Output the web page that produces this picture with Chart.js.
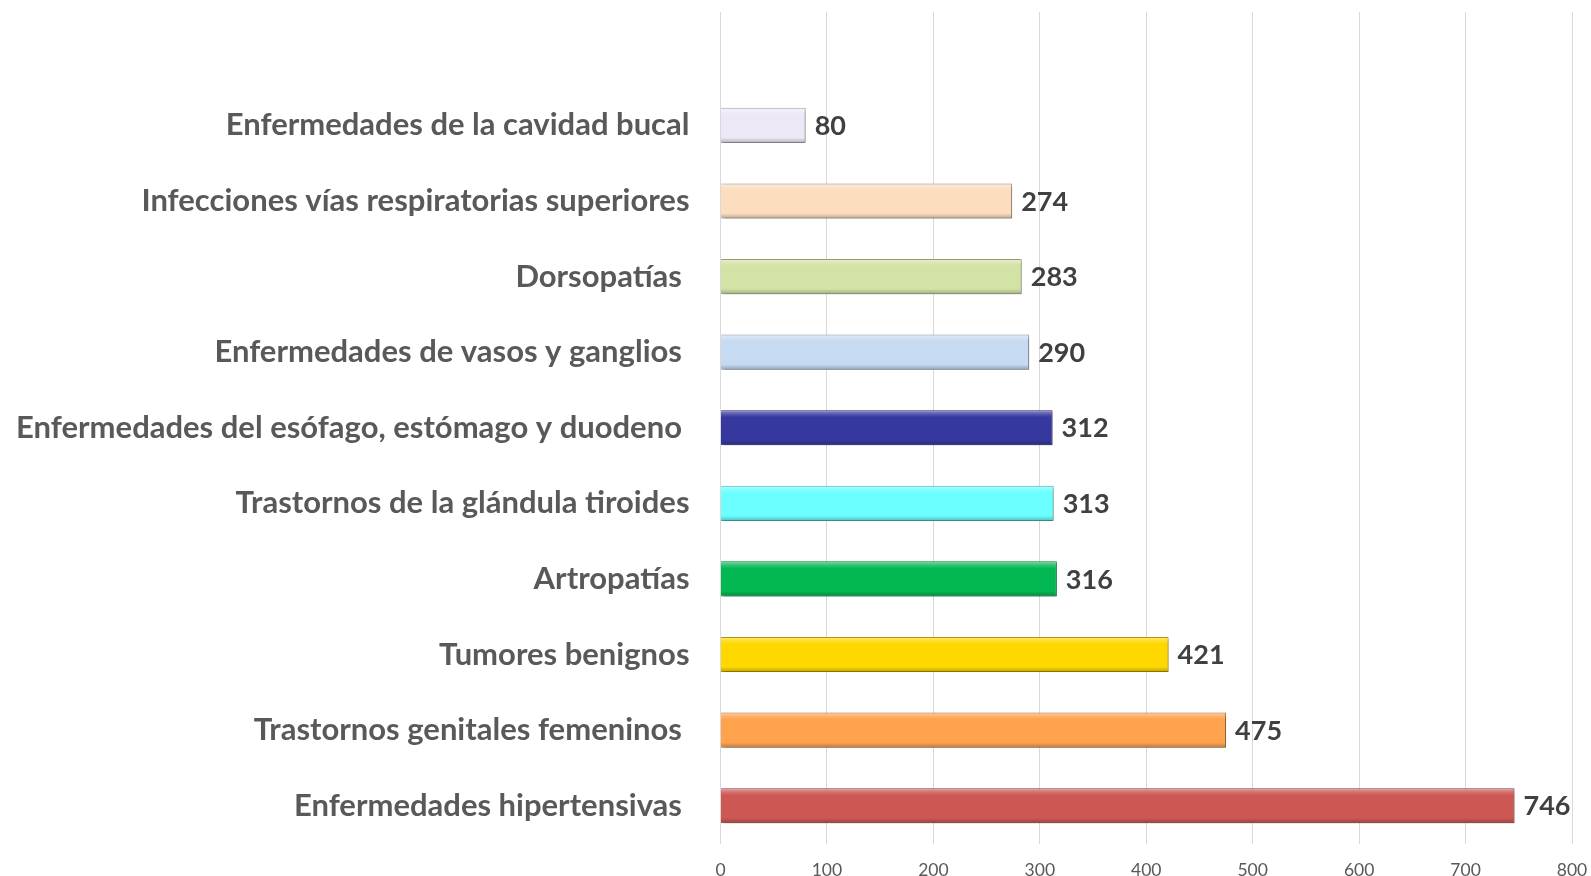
<!DOCTYPE html>
<html>
<head>
<meta charset="utf-8">
<script src="https://cdn.jsdelivr.net/npm/chart.js@4/dist/chart.umd.min.js"></script>
<style>
  html, body { margin: 0; padding: 0; background: #fff; }
  #wrap { width: 1591px; height: 876px; position: relative; }
</style>
</head>
<body>
<div id="wrap"><canvas id="chart"></canvas></div>
<script>
// categories top to bottom (trailing spaces are in the original labels)
const categories = [
  'Enfermedades de la cavidad bucal',
  'Infecciones vías respiratorias superiores',
  'Dorsopatías ',
  'Enfermedades de vasos y ganglios ',
  'Enfermedades del esófago, estómago y duodeno ',
  'Trastornos de la glándula tiroides',
  'Artropatías',
  'Tumores benignos',
  'Trastornos genitales femeninos ',
  'Enfermedades hipertensivas '
];
const values = [80, 274, 283, 290, 312, 313, 316, 421, 475, 746];
const barColors = ['#EDE8F6', '#FCDDBE', '#D3E2A5', '#C6DAF1', '#3737A0', '#6CFFFF', '#03B853', '#FFD800', '#FFA24D', '#CC5753'];
const xTicks = [0, 100, 200, 300, 400, 500, 600, 700, 800];

const FONT = 'Lato, "Open Sans", sans-serif';
const BAR_PCT = 0.465;

// small helper to shade a hex colour
function shade(hex, amt) {
  const n = parseInt(hex.slice(1), 16);
  let r = (n >> 16) & 255, g = (n >> 8) & 255, b = n & 255;
  const f = c => Math.max(0, Math.min(255, Math.round(amt < 0 ? c * (1 + amt) : c + (255 - c) * amt)));
  return `rgb(${f(r)},${f(g)},${f(b)})`;
}

// bevel look: vertical gradient per bar, placed with the y scale
function barFill(context) {
  const chart = context.chart;
  const y = chart.scales.y;
  const base = barColors[context.dataIndex - 1] || '#ccc';
  if (!y || y.top === undefined) return base;
  const cy = y.getPixelForValue(context.dataIndex);
  const band = Math.abs(y.getPixelForValue(1) - y.getPixelForValue(0));
  const h = band * BAR_PCT / 2;
  const g = chart.ctx.createLinearGradient(0, cy - h, 0, cy + h);
  g.addColorStop(0, shade(base, 0.45));
  g.addColorStop(0.12, shade(base, 0.15));
  g.addColorStop(0.2, base);
  g.addColorStop(0.85, base);
  g.addColorStop(1, shade(base, -0.25));
  return g;
}

const shadowPlugin = {
  id: 'barShadow',
  beforeDatasetDraw(chart) {
    const ctx = chart.ctx;
    ctx.save();
    ctx.shadowColor = 'rgba(0,0,0,0.35)';
    ctx.shadowBlur = 3;
    ctx.shadowOffsetX = 1.5;
    ctx.shadowOffsetY = 2;
  },
  afterDatasetDraw(chart) {
    chart.ctx.restore();
  }
};

const valueLabels = {
  id: 'valueLabels',
  afterDatasetsDraw(chart) {
    const ctx = chart.ctx;
    const meta = chart.getDatasetMeta(0);
    ctx.save();
    ctx.font = 'bold 27px ' + FONT;
    ctx.fillStyle = '#404040';
    ctx.textAlign = 'left';
    ctx.textBaseline = 'middle';
    meta.data.forEach((bar, i) => {
      const v = chart.data.datasets[0].data[i];
      if (v == null) return;
      ctx.fillText(String(v), bar.x + 9, bar.y + 1);
    });
    ctx.restore();
  }
};

// blank first category keeps the empty band above the top bar
const labels = [''].concat(categories);
const data = [null].concat(values);

new Chart(document.getElementById('chart'), {
  type: 'bar',
  data: {
    labels: labels,
    datasets: [{
      data: data,
      backgroundColor: barFill,
      borderColor: ctx => shade(barColors[ctx.dataIndex - 1] || '#cccccc', -0.3),
      borderWidth: 1,
      borderSkipped: 'start',
      barPercentage: BAR_PCT,
      categoryPercentage: 1
    }]
  },
  options: {
    indexAxis: 'y',
    responsive: true,
    maintainAspectRatio: false,
    animation: false,
    layout: { padding: { top: 12, right: 19, bottom: 0, left: 0 } },
    plugins: {
      legend: { display: false },
      tooltip: { enabled: false }
    },
    scales: {
      x: {
        min: 0,
        max: 800,
        afterBuildTicks: scale => { scale.ticks = xTicks.map(v => ({ value: v })); },
        grid: { color: '#D9D9D9', lineWidth: 1, drawTicks: false },
        border: { display: false },
        ticks: {
          padding: 16,
          color: '#595959',
          font: { family: FONT, size: 17.5 }
        },
        afterFit: scale => {
          scale.height = 32.5;
          scale.paddingLeft = 0;
          scale.paddingRight = 0;
        }
      },
      y: {
        grid: { display: false, drawTicks: false },
        border: { display: false },
        ticks: {
          padding: 31,
          color: '#595959',
          font: { family: FONT, size: 31, weight: 'bold' }
        },
        afterFit: scale => {
          scale.width = 720.5;
          scale.paddingTop = 0;
          scale.paddingBottom = 0;
        }
      }
    }
  },
  plugins: [shadowPlugin, valueLabels]
});
</script>
</body>
</html>
